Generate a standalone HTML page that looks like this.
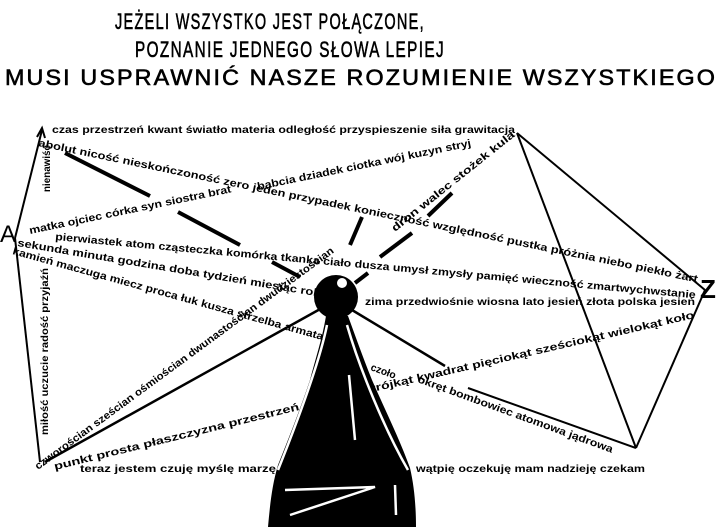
<!DOCTYPE html>
<html><head><meta charset="utf-8"><style>
html,body{margin:0;padding:0;background:#fff;}
svg{display:block;}
text{font-family:"Liberation Sans",sans-serif;fill:#000;}
.t{font-size:10.5px;font-weight:bold;}
.h{font-size:22px;letter-spacing:2px;stroke:#000;stroke-width:0.6;}
</style></head><body>
<svg width="720" height="527" viewBox="0 0 720 527" xmlns="http://www.w3.org/2000/svg">
<!-- title -->
<text class="h" x="115" y="29" textLength="310" lengthAdjust="spacingAndGlyphs">JEŻELI WSZYSTKO JEST POŁĄCZONE,</text>
<text class="h" x="135" y="57" textLength="310" lengthAdjust="spacingAndGlyphs">POZNANIE JEDNEGO SŁOWA LEPIEJ</text>
<text class="h" x="5" y="85" textLength="712" lengthAdjust="spacingAndGlyphs">MUSI USPRAWNIĆ NASZE ROZUMIENIE WSZYSTKIEGO</text>

<g stroke="#000" fill="none" stroke-width="2">
<line x1="15" y1="238" x2="42" y2="130"/>
<polyline points="37,137 42,128 45,138" stroke-width="2"/>
<line x1="15" y1="238" x2="40" y2="462"/>
<line x1="517" y1="133" x2="705" y2="290"/>
<line x1="517" y1="133" x2="636" y2="448"/>
<line x1="705" y1="290" x2="636" y2="448"/>
<line x1="636" y1="448" x2="468" y2="388"/>
<line x1="352" y1="310" x2="445" y2="366" stroke-width="2.5"/>
<line x1="322" y1="308" x2="45" y2="462" stroke-width="2.5"/>
<g stroke-width="4">
<line x1="65" y1="153" x2="150" y2="196"/>
<line x1="178" y1="212" x2="240" y2="245"/>
<line x1="272" y1="262" x2="300" y2="277"/>
<line x1="380" y1="257" x2="412" y2="233"/>
<line x1="428" y1="216" x2="452" y2="193"/>
<line x1="355" y1="283" x2="368" y2="273"/>
<line x1="362" y1="217" x2="350" y2="245"/>
</g>
</g>

<!-- cone -->
<path d="M326,316 C322,340 315,360 310,380 C300,410 288,440 278,465 C272,485 270,505 268,527 L416,527 C416,505 414,485 410,468 C400,440 385,410 372,380 C362,355 355,335 348,316 Z" fill="#000"/>
<g stroke="#fff" stroke-width="2.5" fill="none">
<line x1="349" y1="375" x2="355" y2="440"/>
<polyline points="285,490 375,487 290,515"/>
<line x1="395" y1="485" x2="396" y2="515"/>
<path d="M327,325 C320,360 298,420 278,470"/>
<path d="M347,325 C360,370 385,430 408,470"/>
</g>
<circle cx="336" cy="297" r="22" fill="#000"/>
<circle cx="342" cy="283" r="5" fill="#fff"/>

<text x="0" y="242" style="font-size:24px">A</text>
<text x="700" y="298" style="font-size:26px;font-weight:bold">Z</text>

<text class="t" x="52" y="133" textLength="463" lengthAdjust="spacingAndGlyphs">czas przestrzeń kwant światło materia odległość przyspieszenie siła grawitacja</text>
<text class="t" transform="translate(38,146) rotate(11.7)" textLength="673" lengthAdjust="spacingAndGlyphs">abolut nicość nieskończoność zero jeden przypadek konieczność względność pustka próżnia niebo piekło żart</text>
<text class="t" transform="translate(258,190) rotate(-11.6)" textLength="218" lengthAdjust="spacingAndGlyphs">babcia dziadek ciotka wój kuzyn stryj</text>
<text class="t" transform="translate(30,234) rotate(-11.7)" textLength="206" lengthAdjust="spacingAndGlyphs">matka ojciec córka syn siostra brat</text>
<text class="t" transform="translate(55,240) rotate(5.2)" textLength="643" lengthAdjust="spacingAndGlyphs">pierwiastek atom cząsteczka komórka tkanka ciało dusza umysł zmysły pamięć wieczność zmartwychwstanie</text>
<text class="t" transform="translate(17,246) rotate(9.5)" textLength="307" lengthAdjust="spacingAndGlyphs">sekunda minuta godzina doba tydzień miesiąc rok</text>
<text class="t" transform="translate(12,254) rotate(15.5)" textLength="322" lengthAdjust="spacingAndGlyphs">kamień maczuga miecz proca łuk kusza strzelba armata</text>
<text class="t" transform="translate(38,470) rotate(-36.3)" textLength="368" lengthAdjust="spacingAndGlyphs">czworościan sześcian ośmiościan dwunastościan dwudziestościan</text>
<text class="t" transform="translate(395,232) rotate(-38.6)" textLength="154" lengthAdjust="spacingAndGlyphs">dron walec stożek kula</text>
<text class="t" transform="translate(55,470) rotate(-13.8)" textLength="252" lengthAdjust="spacingAndGlyphs">punkt prosta płaszczyzna przestrzeń</text>
<text class="t" x="80" y="472" textLength="196" lengthAdjust="spacingAndGlyphs">teraz jestem czuję myślę marzę</text>
<text class="t" x="416" y="472" textLength="229" lengthAdjust="spacingAndGlyphs">wątpię oczekuję mam nadzieję czekam</text>
<text class="t" x="365" y="305" textLength="330" lengthAdjust="spacingAndGlyphs">zima przedwiośnie wiosna lato jesień złota polska jesień</text>
<text class="t" transform="translate(370,370) rotate(20)" textLength="26" lengthAdjust="spacingAndGlyphs">czoło</text>
<text class="t" transform="translate(372,392) rotate(-12.9)" textLength="331" lengthAdjust="spacingAndGlyphs">trójkąt kwadrat pięciokąt sześciokąt wielokąt koło</text>
<text class="t" transform="translate(417,382) rotate(20)" textLength="207" lengthAdjust="spacingAndGlyphs">okręt bombowiec atomowa jądrowa</text>
<text class="t" transform="translate(50,192) rotate(-90)" textLength="47" lengthAdjust="spacingAndGlyphs">nienawiść</text>
<text class="t" transform="translate(48,435) rotate(-90)" textLength="167" lengthAdjust="spacingAndGlyphs">miłość uczucie radość przyjaźń</text>
</svg>
</body></html>
